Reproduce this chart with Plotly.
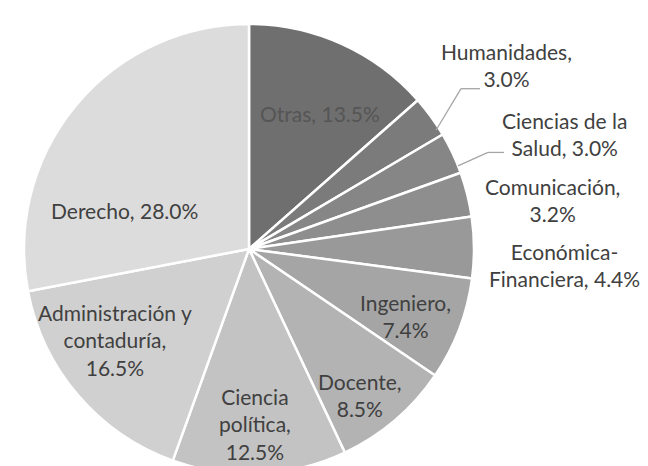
import plotly.graph_objects as go

# areas de formacion, en orden horario desde las 12
areas = ['Otras', 'Humanidades', 'Ciencias de la Salud', 'Comunicación',
         'Económica-Financiera', 'Ingeniero', 'Docente', 'Ciencia política',
         'Administración y contaduría', 'Derecho']
porcentajes = [13.5, 3.0, 3.0, 3.2, 4.4, 7.4, 8.5, 12.5, 16.5, 28.0]
etiquetas = ['Otras, 13.5%', 'Humanidades,<br>3.0%', 'Ciencias de la<br>Salud, 3.0%',
             'Comunicación,<br>3.2%', 'Económica-<br>Financiera, 4.4%', 'Ingeniero,<br>7.4%',
             'Docente,<br>8.5%', 'Ciencia<br>política,<br>12.5%',
             'Administración y<br>contaduría,<br>16.5%', 'Derecho, 28.0%']
colores = ['#6f6f6f', '#7b7b7b', '#868686', '#8e8e8e', '#999999',
           '#a5a5a5', '#b3b3b3', '#c3c3c3', '#d0d0d0', '#dcdcdc']

W, H = 648, 466

# posicion de cada etiqueta en pixeles (centro del bloque de texto)
pos_etiquetas = [(312, 93), (498, 42), (556, 114), (544, 182), (556, 250),
                 (398, 302), (352, 384), (247, 414), (107, 327), (116, 193)]
color_texto = ['#555555'] + ['#404040'] * 9

fig = go.Figure()
fig.add_trace(go.Pie(labels=areas, values=porcentajes, sort=False, direction='clockwise',
                     rotation=0, textinfo='none', hoverinfo='label+percent',
                     marker=dict(colors=colores, line=dict(color='white', width=2.5)),
                     domain=dict(x=[0, 482 / W], y=[0, 1]), showlegend=False))

for txt, (px_, py_), col in zip(etiquetas, pos_etiquetas, color_texto):
    fig.add_annotation(text=txt, x=px_ / W, y=1 - py_ / H, xref='paper', yref='paper',
                       xanchor='center', yanchor='middle', showarrow=False, align='center',
                       font=dict(family='Lato', size=21, color=col))

# lineas guia de las etiquetas externas
guias = [[(428, 110), (453, 67), (472, 67)], [(450, 147), (480, 133), (496, 133)]]
for g in guias:
    for (x0, y0), (x1, y1) in zip(g[:-1], g[1:]):
        fig.add_shape(type='line', xref='paper', yref='paper', x0=x0 / W, y0=1 - y0 / H,
                      x1=x1 / W, y1=1 - y1 / H, line=dict(color='#a6a6a6', width=1.3))

fig.update_layout(width=W, height=H, margin=dict(l=0, r=0, t=16, b=0),
                  paper_bgcolor='white', plot_bgcolor='white')

fig.write_html("out.html")
